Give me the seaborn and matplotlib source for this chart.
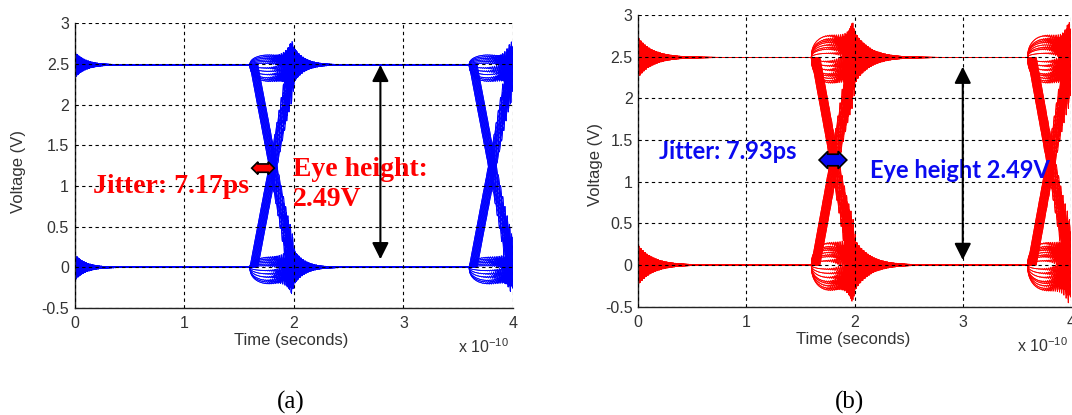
import numpy as np
import pandas as pd
import matplotlib
matplotlib.use("Agg")
import matplotlib.pyplot as plt
import seaborn as sns

# ---- signal description (time in units of 1e-10 s, voltage in V) ----
bit_patterns = ["000", "001", "010", "011", "100", "101", "110", "111"]
v_low = 0.0
eye_height = 2.49

# channel (a)
jitter_a_ps = 7.17
skew_a_ps = [0.0, 0.7, 1.3, 2.0, 2.6, 3.3, 3.9, 4.6, 5.2, 5.9, 6.5, 7.17]
lobe_a = [0.12, -0.20, 0.08, -0.16, 0.04, -0.12, 0.10, -0.08, 0.02, -0.18, 0.06, -0.04]
ring_a = [0.28, 0.12, 0.22, 0.08, 0.18, 0.25, 0.10, 0.20, 0.15, 0.26, 0.06, 0.17]
phase_a = [0.0, 0.5, 1.0, 1.6, 2.1, 2.6, 3.1, 3.7, 4.2, 4.7, 5.2, 5.8]

# channel (b)
jitter_b_ps = 7.93
skew_b_ps = [0.0, 0.5, 1.1, 1.6, 2.1, 2.6, 3.2, 3.7, 4.2, 4.8, 5.3, 5.8, 6.3, 6.9, 7.4, 7.93]
lobe_b = [0.26, -0.30, 0.20, -0.25, 0.15, -0.20, 0.10, -0.15,
          0.05, -0.10, 0.22, -0.28, 0.18, -0.05, 0.12, -0.22]
ring_b = [0.38, 0.18, 0.30, 0.12, 0.24, 0.34, 0.15, 0.27,
          0.36, 0.20, 0.10, 0.32, 0.22, 0.28, 0.16, 0.25]
phase_b = [0.0, 0.4, 0.8, 1.2, 1.6, 2.0, 2.4, 2.8, 3.1, 3.5, 3.9, 4.3, 4.7, 5.1, 5.5, 5.9]

# ---- waveform model ----
UI = 2.0            # bit period
EDGE_START = 1.6    # switching window start inside a period
EDGE_LEN = 0.35
LOBE_LEN = 0.40
RING_DELAY = 0.38
RING_FREQ = 50.0
RING_RISE = 0.06
FIRST_RING_SCALE = 0.75
t = np.arange(0.0, 4.0 + 1e-9, 0.002)


def waveform(bits, skew, lobes, idx, ring, phase, tau):
    lv = [v_low + eye_height * int(b) for b in bits]
    v = np.full_like(t, lv[0])
    for k, t0 in enumerate((EDGE_START, EDGE_START + UI)):
        a, b = lv[k], lv[k + 1]
        if a != b:
            ts = t0 + skew
            te = t0 + EDGE_LEN + skew
            v = v + (b - a) * np.clip((t - ts) / (te - ts), 0, 1)
        else:
            lobe = lobes[(idx + 5 * k) % len(lobes)]
            u = np.clip((t - t0) / LOBE_LEN, 0, 1)
            v = v + lobe * np.sqrt(np.clip(np.sin(np.pi * u ** 0.8), 0, None))
    for tp, scale in ((EDGE_START - UI + RING_DELAY, FIRST_RING_SCALE),
                      (EDGE_START + RING_DELAY, 1.0),
                      (EDGE_START + UI + RING_DELAY, 1.0)):
        dt = t - tp
        env = np.where(dt < 0, np.exp(np.minimum(dt, 0) / RING_RISE),
                       np.exp(-np.maximum(dt, 0) / tau))
        v = v + scale * ring * env * np.sin(2 * np.pi * RING_FREQ * dt + phase)
    return v


def build(skews_ps, lobes, rings, phases, tau):
    frames = []
    n = 0
    for p, bits in enumerate(bit_patterns):
        for i, (s, r, ph) in enumerate(zip(skews_ps, rings, phases)):
            frames.append(pd.DataFrame({
                "t": t,
                "v": waveform(bits, s / 100.0, lobes, i + 3 * p, r, ph, tau),
                "trace": n}))
            n += 1
    return pd.concat(frames, ignore_index=True)


df_a = build(skew_a_ps, lobe_a, ring_a, phase_a, 0.10)
df_b = build(skew_b_ps, lobe_b, ring_b, phase_b, 0.14)

sns.set_style("white")
plt.rcParams["font.family"] = ["Liberation Sans", "DejaVu Sans"]
plt.rcParams["mathtext.default"] = "regular"

fig = plt.figure(figsize=(10.72, 4.15), dpi=100)
ax_a = fig.add_axes([0.0695, 0.2578, 0.4091, 0.6860])
ax_b = fig.add_axes([0.5954, 0.2610, 0.4036, 0.7029])


def style_axes(ax, xlab_pos, ylab_pos, exp_pos):
    ax.set_xlim(0, 4)
    ax.set_ylim(-0.5, 3)
    ax.set_xticks([0, 1, 2, 3, 4])
    ax.set_xticklabels(["0", "1", "2", "3", "4"])
    ax.set_yticks([-0.5, 0, 0.5, 1, 1.5, 2, 2.5, 3])
    ax.set_yticklabels(["-0.5", "0", "0.5", "1", "1.5", "2", "2.5", "3"])
    ax.set_axisbelow(False)
    ax.grid(True, color="black", linestyle=(0, (3, 3)), linewidth=0.8)
    for s in ("top", "right"):
        ax.spines[s].set_visible(False)
    for s in ("left", "bottom"):
        ax.spines[s].set_color("#222222")
        ax.spines[s].set_linewidth(1.0)
    ax.tick_params(direction="in", length=4, labelsize=11.5, colors="#222222",
                   labelcolor="#333333")
    ax.tick_params(axis="x", pad=6)
    ax.tick_params(axis="y", pad=4)
    ax.set_xlabel("Time (seconds)", fontsize=12, color="#333333")
    ax.set_ylabel("Voltage (V)", fontsize=12, color="#333333")
    ax.xaxis.set_label_coords(*xlab_pos)
    ax.yaxis.set_label_coords(*ylab_pos)
    ax.text(exp_pos[0], exp_pos[1], r"x $10^{-10}$", transform=ax.transAxes,
            fontsize=11.5, color="#333333", ha="left", va="center")


sns.lineplot(data=df_a, x="t", y="v", units="trace", estimator=None, sort=False,
             color="#0000ff", lw=0.6, ax=ax_a, legend=False)
sns.lineplot(data=df_b, x="t", y="v", units="trace", estimator=None, sort=False,
             color="#ff0000", lw=0.6, ax=ax_b, legend=False)

style_axes(ax_a, (0.4937, -0.087), (-0.111, 0.478), (0.874, -0.135))
style_axes(ax_b, (0.496, -0.087), (-0.082, 0.487), (0.875, -0.135))

# ---- annotations, panel (a) ----
serif_bold = dict(family=["Liberation Serif", "DejaVu Serif"], weight="bold")
ax_a.text(0.17, 1.0, f"Jitter: {jitter_a_ps:.2f}ps", color="#ff0000", fontsize=20,
          ha="left", va="center", **serif_bold)
ax_a.text(1.99, 1.20, "Eye height:", color="#ff0000", fontsize=20,
          ha="left", va="center", **serif_bold)
ax_a.text(1.99, 0.83, f"{eye_height:.2f}V", color="#ff0000", fontsize=20,
          ha="left", va="center", **serif_bold)
ax_a.text(1.72, 1.22, " " * 9, fontsize=4, ha="center", va="center",
          bbox=dict(boxstyle="darrow,pad=0.3", fc="#ff0000", ec="black", lw=1.2))
ax_a.annotate("", xy=(2.79, v_low + eye_height), xytext=(2.79, v_low),
              arrowprops=dict(arrowstyle="<|-|>,head_length=1.0,head_width=0.5",
                              color="black", lw=1.5, shrinkA=5.8, shrinkB=0))

# ---- annotations, panel (b) ----
sans_bold = dict(family=["Lato", "DejaVu Sans"], weight="bold")
ax_b.text(0.196, 1.36, f"Jitter: {jitter_b_ps:.2f}ps", color="#0a0af0", fontsize=17,
          ha="left", va="center", **sans_bold)
ax_b.text(2.14, 1.14, f"Eye height {eye_height:.2f}V", color="#0a0af0", fontsize=17,
          ha="left", va="center", **sans_bold)
ax_b.text(1.80, 1.26, " " * 7, fontsize=5.5, ha="center", va="center",
          bbox=dict(boxstyle="darrow,pad=0.3", fc="#0a0af0", ec="black", lw=1.2))
ax_b.annotate("", xy=(3.0, v_low + eye_height), xytext=(3.0, v_low),
              arrowprops=dict(arrowstyle="<|-|>,head_length=1.0,head_width=0.5",
                              color="black", lw=1.5, shrinkA=3.6, shrinkB=6.6))

# ---- panel captions ----
caption = dict(family=["Liberation Serif", "DejaVu Serif"], fontsize=18,
               ha="center", va="center", color="black")
fig.text(0.2715, 0.031, "(a)", **caption)
fig.text(0.792, 0.031, "(b)", **caption)

fig.savefig("out.png", dpi=100)
